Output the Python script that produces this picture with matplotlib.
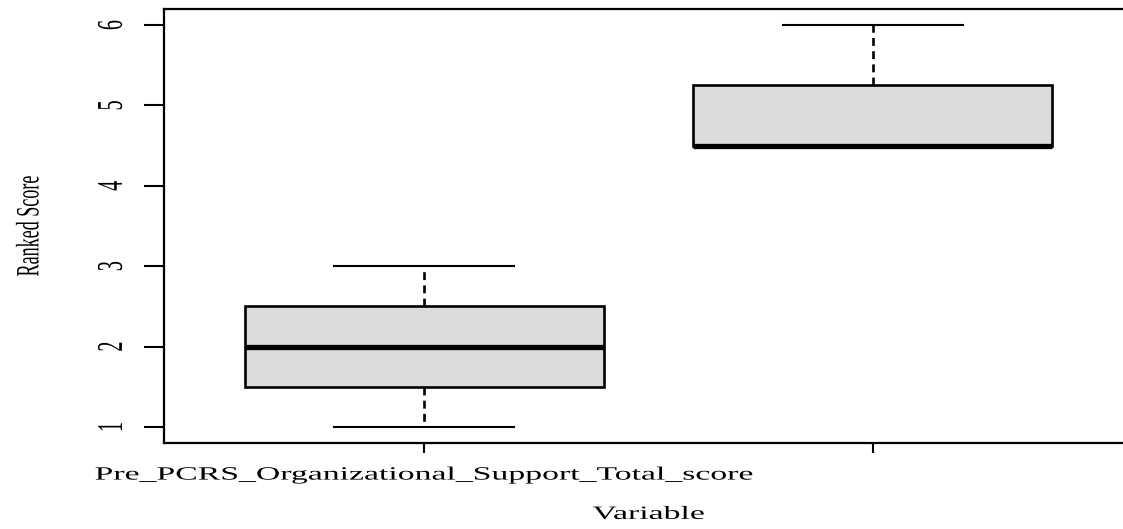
import matplotlib
matplotlib.use("Agg")
import matplotlib.pyplot as plt
from matplotlib.patheffects import AbstractPathEffect
from matplotlib.transforms import Affine2D

# box statistics
positions = [1, 2]
medians = [2.0, 4.5]
q1s = [1.5, 4.5]
q3s = [2.5, 5.25]
lows = [1.0, 4.5]
highs = [3.0, 6.0]
tick_labels = ["Pre_PCRS_Organizational_Support_Total_score", ""]
yticks = [1, 2, 3, 4, 5, 6]

plt.rcParams["font.family"] = ["Liberation Serif", "DejaVu Serif"]


class Stretch(AbstractPathEffect):
    # the source image is stretched sideways, so widen the glyphs the same way
    def __init__(self, sx=1.0):
        super().__init__()
        self.sx = sx

    def draw_path(self, renderer, gc, tpath, affine, rgbFace=None):
        bb = tpath.get_extents(affine)
        cx = bb.x0 + bb.width / 2
        st = Affine2D().translate(-cx, 0).scale(self.sx, 1).translate(cx, 0)
        renderer.draw_path(gc, tpath, affine + st, rgbFace)


wide = [Stretch(1.8)]

stats = []
for i in range(len(positions)):
    stats.append(dict(med=medians[i], q1=q1s[i], q3=q3s[i],
                      whislo=lows[i], whishi=highs[i], fliers=[]))

fig = plt.figure(figsize=(11.23, 5.29), dpi=100)
ax = fig.add_axes([0.146, 0.1626, 0.863, 0.8204])

ax.bxp(stats, positions=positions, widths=0.8, capwidths=0.4,
       patch_artist=True, showfliers=False,
       boxprops=dict(facecolor="#dcdcdc", edgecolor="black", linewidth=1.9),
       medianprops=dict(color="black", linewidth=3.8),
       whiskerprops=dict(color="black", linewidth=1.9, linestyle=(0, (3, 2))),
       capprops=dict(color="black", linewidth=1.5))

ax.set_xlim(0.42, 2.58)
ax.set_ylim(0.8, 6.2)
ax.set_xticks(positions)
ax.set_xticklabels(tick_labels, fontsize=13.5)
ax.set_yticks(yticks)
ax.set_yticklabels([str(v) for v in yticks], rotation=90, va="center", fontsize=14.5)
ax.tick_params(axis="x", length=7.5, width=1.5, pad=9.5)
ax.tick_params(axis="y", length=14.5, width=1.5, pad=16)
for s in ax.spines.values():
    s.set_linewidth(1.6)

ax.set_ylabel("Ranked Score", fontsize=13)
ax.yaxis.set_label_coords(-0.1393, 0.5)
ax.yaxis.label.set_verticalalignment("center")
ax.set_xlabel("Variable", fontsize=13.5)
ax.xaxis.set_label_coords(0.5, -0.145)

for t in ax.get_xticklabels() + ax.get_yticklabels():
    t.set_path_effects(wide)
ax.xaxis.label.set_path_effects(wide)
ax.yaxis.label.set_path_effects(wide)

fig.savefig("out.png", dpi=100)
